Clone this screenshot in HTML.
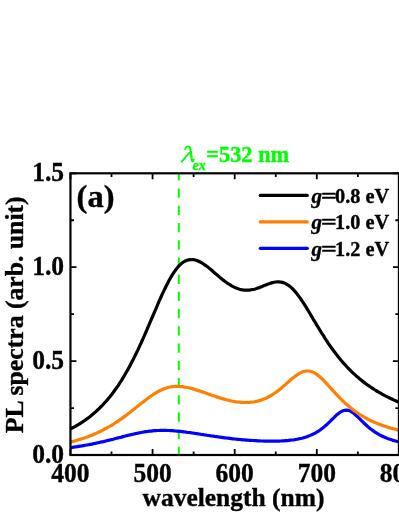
<!DOCTYPE html>
<html><head><meta charset="utf-8"><title>PL spectra</title>
<style>
html,body{margin:0;padding:0;background:#fff;}
body{width:399px;height:516px;overflow:hidden;}
text{stroke:#000;stroke-width:0.35px;} .gt text{stroke:#00ff00;}
svg{display:block;opacity:0.9999;will-change:transform;font-family:"Liberation Serif",serif;font-weight:bold;}
</style></head><body>
<svg width="399" height="516" viewBox="0 0 399 516">
<rect width="399" height="516" fill="#fff"/>
<path d="M178.8,455.00V173" stroke="#00ff00" stroke-width="2" stroke-dasharray="9.3 7.92" stroke-dashoffset="1.1" fill="none"/>
<g fill="none" stroke-width="3.2" stroke-linejoin="round">
<path d="M70.5,447.6 L72.1,447.4 L73.7,447.1 L75.4,446.9 L77.0,446.7 L78.7,446.4 L80.3,446.1 L81.9,445.9 L83.6,445.6 L85.2,445.3 L86.9,445.0 L88.5,444.7 L90.2,444.4 L91.8,444.1 L93.4,443.7 L95.1,443.4 L96.7,443.0 L98.4,442.7 L100.0,442.3 L101.7,441.9 L103.3,441.6 L104.9,441.2 L106.6,440.8 L108.2,440.4 L109.9,440.0 L111.5,439.6 L113.2,439.2 L114.8,438.7 L116.4,438.3 L118.1,437.9 L119.7,437.5 L121.4,437.1 L123.0,436.6 L124.6,436.2 L126.3,435.8 L127.9,435.4 L129.6,435.0 L131.2,434.6 L132.9,434.2 L134.5,433.9 L136.1,433.5 L137.8,433.2 L139.4,432.8 L141.1,432.5 L142.7,432.2 L144.4,431.9 L146.0,431.7 L147.6,431.5 L149.3,431.2 L150.9,431.1 L152.6,430.9 L154.2,430.7 L155.9,430.6 L157.5,430.5 L159.1,430.5 L160.8,430.4 L162.4,430.4 L164.1,430.4 L165.7,430.4 L167.4,430.5 L169.0,430.5 L170.6,430.6 L172.3,430.7 L173.9,430.8 L175.6,431.0 L177.2,431.1 L178.8,431.3 L180.5,431.4 L182.1,431.6 L183.8,431.8 L185.4,432.0 L187.1,432.3 L188.7,432.5 L190.3,432.7 L192.0,433.0 L193.6,433.2 L195.3,433.5 L196.9,433.7 L198.6,434.0 L200.2,434.2 L201.8,434.5 L203.5,434.7 L205.1,435.0 L206.8,435.2 L208.4,435.5 L210.1,435.7 L211.7,436.0 L213.3,436.2 L215.0,436.5 L216.6,436.7 L218.3,436.9 L219.9,437.2 L221.6,437.4 L223.2,437.6 L224.8,437.8 L226.5,438.0 L228.1,438.2 L229.8,438.4 L231.4,438.6 L233.0,438.8 L234.7,439.0 L236.3,439.2 L238.0,439.3 L239.6,439.5 L241.3,439.6 L242.9,439.8 L244.5,439.9 L246.2,440.1 L247.8,440.2 L249.5,440.3 L251.1,440.4 L252.8,440.5 L254.4,440.7 L256.0,440.7 L257.7,440.8 L259.3,440.9 L261.0,441.0 L262.6,441.0 L264.3,441.1 L265.9,441.1 L267.5,441.2 L269.2,441.2 L270.8,441.2 L272.5,441.2 L274.1,441.2 L275.8,441.1 L277.4,441.1 L279.0,441.1 L280.7,441.0 L282.3,440.9 L284.0,440.8 L285.6,440.7 L287.2,440.6 L288.9,440.4 L290.5,440.2 L292.2,440.0 L293.8,439.8 L295.5,439.5 L297.1,439.2 L298.7,438.9 L300.4,438.5 L302.0,438.2 L303.7,437.7 L305.3,437.2 L307.0,436.7 L308.6,436.1 L310.2,435.4 L311.9,434.7 L313.5,433.9 L315.2,433.1 L316.8,432.1 L318.5,431.1 L320.1,430.0 L321.7,428.8 L323.4,427.5 L325.0,426.1 L326.7,424.7 L328.3,423.1 L329.9,421.6 L331.6,419.9 L333.2,418.3 L334.9,416.7 L336.5,415.1 L338.2,413.7 L339.8,412.5 L341.4,411.5 L343.1,410.7 L344.7,410.3 L346.4,410.1 L348.0,410.3 L349.7,410.8 L351.3,411.7 L352.9,412.8 L354.6,414.0 L356.2,415.5 L357.9,417.0 L359.5,418.7 L361.2,420.3 L362.8,421.9 L364.4,423.5 L366.1,425.0 L367.7,426.5 L369.4,427.9 L371.0,429.2 L372.7,430.4 L374.3,431.6 L375.9,432.7 L377.6,433.7 L379.2,434.6 L380.9,435.5 L382.5,436.3 L384.1,437.0 L385.8,437.7 L387.4,438.4 L389.1,439.0 L390.7,439.5 L392.4,440.1 L394.0,440.6 L395.6,441.0 L397.3,441.5 L398.9,441.9" stroke="#0000ff"/>
<path d="M70.5,442.1 L72.1,441.6 L73.7,441.2 L75.4,440.8 L77.0,440.3 L78.7,439.8 L80.3,439.3 L81.9,438.8 L83.6,438.2 L85.2,437.7 L86.9,437.1 L88.5,436.5 L90.2,435.8 L91.8,435.2 L93.4,434.5 L95.1,433.8 L96.7,433.1 L98.4,432.3 L100.0,431.5 L101.7,430.7 L103.3,429.9 L104.9,429.0 L106.6,428.1 L108.2,427.2 L109.9,426.3 L111.5,425.3 L113.2,424.3 L114.8,423.2 L116.4,422.2 L118.1,421.1 L119.7,419.9 L121.4,418.8 L123.0,417.6 L124.6,416.4 L126.3,415.2 L127.9,413.9 L129.6,412.7 L131.2,411.4 L132.9,410.1 L134.5,408.8 L136.1,407.4 L137.8,406.1 L139.4,404.8 L141.1,403.5 L142.7,402.2 L144.4,400.9 L146.0,399.7 L147.6,398.4 L149.3,397.2 L150.9,396.1 L152.6,395.0 L154.2,393.9 L155.9,392.9 L157.5,391.9 L159.1,391.0 L160.8,390.2 L162.4,389.5 L164.1,388.8 L165.7,388.2 L167.4,387.7 L169.0,387.3 L170.6,387.0 L172.3,386.7 L173.9,386.5 L175.6,386.4 L177.2,386.4 L178.8,386.5 L180.5,386.6 L182.1,386.7 L183.8,386.9 L185.4,387.2 L187.1,387.5 L188.7,387.8 L190.3,388.2 L192.0,388.6 L193.6,389.1 L195.3,389.6 L196.9,390.1 L198.6,390.6 L200.2,391.1 L201.8,391.7 L203.5,392.3 L205.1,392.8 L206.8,393.4 L208.4,394.0 L210.1,394.6 L211.7,395.2 L213.3,395.7 L215.0,396.3 L216.6,396.9 L218.3,397.4 L219.9,397.9 L221.6,398.4 L223.2,398.9 L224.8,399.4 L226.5,399.8 L228.1,400.2 L229.8,400.6 L231.4,401.0 L233.0,401.3 L234.7,401.6 L236.3,401.8 L238.0,402.0 L239.6,402.2 L241.3,402.4 L242.9,402.4 L244.5,402.5 L246.2,402.5 L247.8,402.5 L249.5,402.4 L251.1,402.2 L252.8,402.0 L254.4,401.8 L256.0,401.4 L257.7,401.1 L259.3,400.6 L261.0,400.1 L262.6,399.5 L264.3,398.9 L265.9,398.2 L267.5,397.4 L269.2,396.5 L270.8,395.6 L272.5,394.6 L274.1,393.5 L275.8,392.4 L277.4,391.2 L279.0,389.9 L280.7,388.6 L282.3,387.2 L284.0,385.8 L285.6,384.4 L287.2,382.9 L288.9,381.5 L290.5,380.0 L292.2,378.6 L293.8,377.3 L295.5,376.0 L297.1,374.8 L298.7,373.8 L300.4,372.9 L302.0,372.1 L303.7,371.5 L305.3,371.2 L307.0,371.0 L308.6,371.0 L310.2,371.3 L311.9,371.7 L313.5,372.4 L315.2,373.3 L316.8,374.4 L318.5,375.6 L320.1,377.0 L321.7,378.5 L323.4,380.1 L325.0,381.8 L326.7,383.6 L328.3,385.4 L329.9,387.2 L331.6,389.1 L333.2,390.9 L334.9,392.7 L336.5,394.5 L338.2,396.2 L339.8,397.9 L341.4,399.5 L343.1,401.1 L344.7,402.7 L346.4,404.2 L348.0,405.6 L349.7,407.0 L351.3,408.4 L352.9,409.6 L354.6,410.9 L356.2,412.0 L357.9,413.2 L359.5,414.3 L361.2,415.3 L362.8,416.3 L364.4,417.2 L366.1,418.1 L367.7,419.0 L369.4,419.9 L371.0,420.7 L372.7,421.4 L374.3,422.2 L375.9,422.9 L377.6,423.5 L379.2,424.2 L380.9,424.8 L382.5,425.4 L384.1,426.0 L385.8,426.5 L387.4,427.1 L389.1,427.6 L390.7,428.1 L392.4,428.5 L394.0,429.0 L395.6,429.4 L397.3,429.9 L398.9,430.3" stroke="#ff8000"/>
<path d="M70.5,428.9 L72.1,428.0 L73.7,427.2 L75.4,426.3 L77.0,425.3 L78.7,424.3 L80.3,423.3 L81.9,422.3 L83.6,421.2 L85.2,420.1 L86.9,418.9 L88.5,417.7 L90.2,416.4 L91.8,415.1 L93.4,413.7 L95.1,412.3 L96.7,410.8 L98.4,409.3 L100.0,407.7 L101.7,406.0 L103.3,404.3 L104.9,402.5 L106.6,400.7 L108.2,398.7 L109.9,396.7 L111.5,394.7 L113.2,392.5 L114.8,390.3 L116.4,388.0 L118.1,385.6 L119.7,383.1 L121.4,380.6 L123.0,377.9 L124.6,375.2 L126.3,372.3 L127.9,369.4 L129.6,366.4 L131.2,363.3 L132.9,360.1 L134.5,356.9 L136.1,353.5 L137.8,350.1 L139.4,346.6 L141.1,343.0 L142.7,339.3 L144.4,335.6 L146.0,331.9 L147.6,328.1 L149.3,324.2 L150.9,320.4 L152.6,316.5 L154.2,312.6 L155.9,308.8 L157.5,305.0 L159.1,301.2 L160.8,297.5 L162.4,293.9 L164.1,290.4 L165.7,287.0 L167.4,283.7 L169.0,280.6 L170.6,277.7 L172.3,274.9 L173.9,272.4 L175.6,270.0 L177.2,267.9 L178.8,266.0 L180.5,264.4 L182.1,263.0 L183.8,261.8 L185.4,260.9 L187.1,260.2 L188.7,259.8 L190.3,259.6 L192.0,259.5 L193.6,259.7 L195.3,260.0 L196.9,260.5 L198.6,261.2 L200.2,262.0 L201.8,262.9 L203.5,264.0 L205.1,265.1 L206.8,266.3 L208.4,267.6 L210.1,268.9 L211.7,270.3 L213.3,271.7 L215.0,273.2 L216.6,274.6 L218.3,276.0 L219.9,277.4 L221.6,278.7 L223.2,280.1 L224.8,281.3 L226.5,282.5 L228.1,283.7 L229.8,284.7 L231.4,285.7 L233.0,286.6 L234.7,287.4 L236.3,288.1 L238.0,288.7 L239.6,289.2 L241.3,289.6 L242.9,289.9 L244.5,290.1 L246.2,290.2 L247.8,290.2 L249.5,290.1 L251.1,289.8 L252.8,289.5 L254.4,289.2 L256.0,288.7 L257.7,288.1 L259.3,287.6 L261.0,286.9 L262.6,286.3 L264.3,285.6 L265.9,284.9 L267.5,284.3 L269.2,283.7 L270.8,283.1 L272.5,282.6 L274.1,282.3 L275.8,282.0 L277.4,281.9 L279.0,281.9 L280.7,282.1 L282.3,282.4 L284.0,282.9 L285.6,283.6 L287.2,284.5 L288.9,285.6 L290.5,286.9 L292.2,288.4 L293.8,290.1 L295.5,292.0 L297.1,294.0 L298.7,296.1 L300.4,298.4 L302.0,300.9 L303.7,303.4 L305.3,305.9 L307.0,308.6 L308.6,311.3 L310.2,314.0 L311.9,316.8 L313.5,319.6 L315.2,322.3 L316.8,325.1 L318.5,327.8 L320.1,330.5 L321.7,333.1 L323.4,335.7 L325.0,338.3 L326.7,340.8 L328.3,343.3 L329.9,345.6 L331.6,348.0 L333.2,350.2 L334.9,352.5 L336.5,354.6 L338.2,356.7 L339.8,358.7 L341.4,360.7 L343.1,362.6 L344.7,364.4 L346.4,366.2 L348.0,368.0 L349.7,369.7 L351.3,371.3 L352.9,372.9 L354.6,374.4 L356.2,375.9 L357.9,377.3 L359.5,378.7 L361.2,380.1 L362.8,381.4 L364.4,382.6 L366.1,383.9 L367.7,385.1 L369.4,386.2 L371.0,387.3 L372.7,388.4 L374.3,389.5 L375.9,390.5 L377.6,391.5 L379.2,392.5 L380.9,393.4 L382.5,394.3 L384.1,395.2 L385.8,396.1 L387.4,396.9 L389.1,397.7 L390.7,398.5 L392.4,399.3 L394.0,400.1 L395.6,400.8 L397.3,401.5 L398.9,402.2" stroke="#000000"/>
</g>
<rect x="70.45" y="173.30" width="328.48" height="281.70" fill="none" stroke="#000" stroke-width="2.2"/>
<path d="M70.45,455.00v-6 M70.45,173.30v6 M111.51,455.00v-3.6 M111.51,173.30v3.6 M152.57,455.00v-6 M152.57,173.30v6 M193.63,455.00v-3.6 M193.63,173.30v3.6 M234.69,455.00v-6 M234.69,173.30v6 M275.75,455.00v-3.6 M275.75,173.30v3.6 M316.81,455.00v-6 M316.81,173.30v6 M357.87,455.00v-3.6 M357.87,173.30v3.6 M398.93,455.00v-6 M398.93,173.30v6 M70.45,455.00h6 M398.93,455.00h-6 M70.45,408.05h3.6 M398.93,408.05h-3.6 M70.45,361.10h6 M398.93,361.10h-6 M70.45,314.15h3.6 M398.93,314.15h-3.6 M70.45,267.20h6 M398.93,267.20h-6 M70.45,220.25h3.6 M398.93,220.25h-3.6 M70.45,173.30h6 M398.93,173.30h-6" stroke="#000" stroke-width="1.8" fill="none"/>
<g font-size="25.5px" fill="#000"><text transform="translate(70.45,482.0) scale(1,1.04)" text-anchor="middle">400</text><text transform="translate(152.57,482.0) scale(1,1.04)" text-anchor="middle">500</text><text transform="translate(234.69,482.0) scale(1,1.04)" text-anchor="middle">600</text><text transform="translate(316.81,482.0) scale(1,1.04)" text-anchor="middle">700</text><text transform="translate(398.93,482.0) scale(1,1.04)" text-anchor="middle">800</text><text transform="translate(64,462.9) scale(1,1.04)" text-anchor="end">0.0</text><text transform="translate(64,369.1) scale(1,1.04)" text-anchor="end">0.5</text><text transform="translate(64,275.2) scale(1,1.04)" text-anchor="end">1.0</text><text transform="translate(64,181.0) scale(1,1.04)" text-anchor="end">1.5</text></g>
<text x="233.5" y="506" font-size="25.5px" text-anchor="middle">wavelength (nm)</text>
<text transform="translate(23,314.8) rotate(-90)" font-size="25.7px" text-anchor="middle">PL spectra (arb. unit)</text>
<text x="76.6" y="206.5" font-size="32.5px">(a)</text>
<g fill="none" stroke-width="3.2" stroke-linecap="round">
<path d="M260.3,195.4H307.3" stroke="#000"/>
<path d="M260.3,221.9H307.3" stroke="#ff8000"/>
<path d="M260.3,248.3H307.3" stroke="#0000ff"/>
</g>
<g font-size="21px">
<text x="311.6" y="202.6" font-style="italic">g</text><text transform="translate(329,202.6) scale(1.32,1)" text-anchor="middle">=</text><text x="335" y="202.6" font-size="20.3px">0.8 eV</text>
<text x="311.6" y="229.1" font-style="italic">g</text><text transform="translate(329,229.1) scale(1.32,1)" text-anchor="middle">=</text><text x="335" y="229.1" font-size="20.3px">1.0 eV</text>
<text x="311.6" y="255.6" font-style="italic">g</text><text transform="translate(329,255.6) scale(1.32,1)" text-anchor="middle">=</text><text x="335" y="255.6" font-size="20.3px">1.2 eV</text>
</g>
<g class="gt" fill="#00ff00" font-size="22.4px">
<g fill="none" stroke="#00ff00" stroke-linecap="round" stroke-linejoin="round">
<path d="M185,149.6C185.5,147.3 186.8,146.2 188.2,146.2C189.3,146.2 189.9,146.9 190.2,148.2" stroke-width="1.5"/>
<path d="M189.6,147.4C190.2,148.4 190.5,149.6 190.7,151L191.7,158.9C191.9,160.6 192.3,161.3 192.8,161.2C193.2,161.1 193.5,160.4 193.7,159.5" stroke-width="2.1"/>
<path d="M189.8,152.4L181.7,161.6" stroke-width="1.8"/>
</g>
<text x="192.4" y="169.6" font-size="14.2px" font-style="italic">ex</text>
<text transform="translate(206.2,161.8) scale(1,1.05)">=532 nm</text>
</g>
</svg>
</body></html>
